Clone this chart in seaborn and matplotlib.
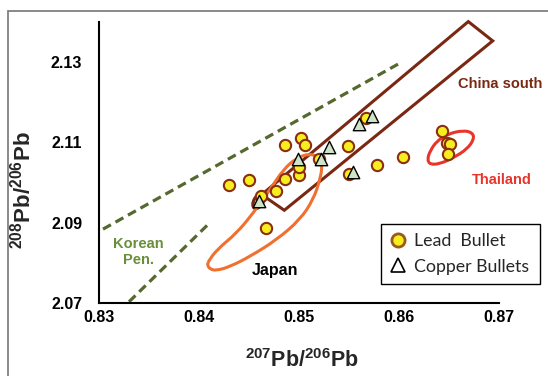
import numpy as np
import pandas as pd
import seaborn as sns
import matplotlib
matplotlib.use("Agg")
import matplotlib.pyplot as plt
from matplotlib.path import Path
from matplotlib.patches import PathPatch, Polygon, Ellipse, Rectangle
from matplotlib.lines import Line2D
import matplotlib.transforms as mtransforms

# ---------------- data ----------------
lead_x = [0.8430, 0.8450, 0.8462, 0.8467, 0.8477, 0.8486, 0.8486, 0.8500, 0.8500,
          0.8502, 0.8506, 0.8520, 0.8549, 0.8550, 0.8578, 0.8567, 0.8604, 0.8643,
          0.8648, 0.8651, 0.8649]
lead_y = [2.0995, 2.1006, 2.0966, 2.0888, 2.0980, 2.1009, 2.1093, 2.1018, 2.1039,
          2.1112, 2.1093, 2.1058, 2.1091, 2.1022, 2.1045, 2.1162, 2.1063, 2.1128,
          2.1098, 2.1097, 2.1072]

copper_x = [0.8460, 0.8499, 0.8522, 0.8530, 0.8560, 0.8573, 0.8554]
copper_y = [2.0955, 2.1058, 2.1058, 2.1089, 2.1147, 2.1166, 2.1027]

# field outlines (data coords)
korea_upper_x = [0.8304, 0.8599]
korea_upper_y = [2.0884, 2.1295]
korea_lower_x = [0.8330, 0.8410]
korea_lower_y = [2.0703, 2.0898]

china_x = [0.84627, 0.86693, 0.86937, 0.84853]
china_y = [2.0970, 2.1401, 2.1353, 2.0931]

japan_x = [0.84093, 0.84177, 0.84377, 0.84543, 0.84710, 0.84843, 0.84977, 0.85110,
           0.85210, 0.85233, 0.85210, 0.85143, 0.85010, 0.84777, 0.84510, 0.84310,
           0.84177, 0.84110, 0.84083]
japan_y = [2.08033, 2.08325, 2.08742, 2.09242, 2.09825, 2.10325, 2.10617, 2.10725,
           2.10617, 2.10408, 2.10075, 2.09575, 2.09075, 2.08575, 2.08158, 2.07908,
           2.07808, 2.07842, 2.07950]

thai_x = [0.86283, 0.86310, 0.86377, 0.86493, 0.86643, 0.86737, 0.86750, 0.86677,
          0.86543, 0.86410, 0.86310]
thai_y = [2.10575, 2.10783, 2.11033, 2.11217, 2.11300, 2.11242, 2.11075, 2.10825,
          2.10617, 2.10467, 2.10450]

x_ticks = [0.83, 0.84, 0.85, 0.86, 0.87]
x_ticklabels = ["0.83", "0.84", "0.85", "0.86", "0.87"]
y_ticks = [2.07, 2.09, 2.11, 2.13]
y_ticklabels = ["2.07", "2.09", "2.11", "2.13"]

# ---------------- style ----------------
sns.set_style("white")
plt.rcParams["font.family"] = ["Liberation Sans", "DejaVu Sans"]
plt.rcParams["mathtext.fontset"] = "custom"
plt.rcParams["mathtext.rm"] = "Liberation Sans:bold"
plt.rcParams["mathtext.it"] = "Liberation Sans:bold"
plt.rcParams["mathtext.bf"] = "Liberation Sans:bold"
plt.rcParams["lines.scale_dashes"] = False

BROWN = "#7a2812"
OLIVE = "#55692f"
ORANGE = "#f07030"
RED = "#e8352c"

fig = plt.figure(figsize=(5.48, 3.76), dpi=100)
ax = fig.add_axes([99 / 548, 1 - 303 / 376, 400 / 548, 281 / 376])

# gray outer frame
fig.add_artist(Rectangle((8 / 548, -0.1), 1.2, 1 - 10.5 / 376 + 0.1,
                         transform=fig.transFigure, fill=False,
                         edgecolor="#808080", linewidth=1.3, clip_on=False))


def smooth_closed(xs, ys):
    pts = list(zip(xs, ys))
    n = len(pts)
    mids = [((pts[i][0] + pts[(i + 1) % n][0]) / 2, (pts[i][1] + pts[(i + 1) % n][1]) / 2)
            for i in range(n)]
    verts = [mids[-1]]
    codes = [Path.MOVETO]
    for i in range(n):
        verts += [pts[i], mids[i]]
        codes += [Path.CURVE3, Path.CURVE3]
    return Path(verts, codes)


# Korean peninsula dashed lines
ax.plot(korea_upper_x, korea_upper_y, color=OLIVE, lw=2.3, ls=(0, (6.5, 3.8)), zorder=2)
ax.plot(korea_lower_x, korea_lower_y, color=OLIVE, lw=2.3, ls=(0, (6.5, 3.8)), zorder=2)

# China south box
ax.add_patch(Polygon(list(zip(china_x, china_y)), closed=True, fill=False,
                     edgecolor=BROWN, lw=2.2, joinstyle="miter", clip_on=False, zorder=2))
# small brown loop
ell_tr = fig.dpi_scale_trans + mtransforms.ScaledTranslation(0.84595, 2.09538, ax.transData)
ax.add_patch(Ellipse((0, 0), 0.16, 0.09, angle=60, transform=ell_tr, fill=False,
                     edgecolor=BROWN, lw=2.4, zorder=2))

# Japan field
ax.add_patch(PathPatch(smooth_closed(japan_x, japan_y), fill=False,
                       edgecolor=ORANGE, lw=2.2, zorder=2))
# Thailand field
ax.add_patch(PathPatch(smooth_closed(thai_x, thai_y), fill=False,
                       edgecolor=RED, lw=2.2, zorder=2))

# data points
sns.scatterplot(x=lead_x, y=lead_y, ax=ax, marker="o", s=66, color="#f7ee1f",
                edgecolor="#8a2e10", linewidth=1.5, zorder=4, legend=False)
sns.scatterplot(x=copper_x, y=copper_y, ax=ax, marker="^", s=80, color="#cfe3c8",
                edgecolor="black", linewidth=1.0, zorder=5, legend=False)

# labels in the plot
ax.text(0.8659, 2.1245, "China south", color=BROWN, fontsize=10.5, fontweight="bold",
        ha="left", va="center")
ax.text(0.8673, 2.10075, "Thailand", color=RED, fontsize=10.5, fontweight="bold",
        ha="left", va="center", clip_on=False)
ax.text(0.84765, 2.0781, "Japan", color="black", fontsize=11.5, fontweight="bold",
        ha="center", va="center")
ax.text(0.83395, 2.08275, "Korean\nPen.", color="#6a8f3c", fontsize=10.5,
        fontweight="bold", ha="center", va="center", linespacing=1.15)

# axes
ax.set_xlim(0.83, 0.87)
ax.set_ylim(2.07, 2.14)
ax.set_xticks(x_ticks)
ax.set_xticklabels(x_ticklabels, fontsize=11.5, fontweight="bold")
ax.set_yticks(y_ticks)
ax.set_yticklabels(y_ticklabels, fontsize=11.5, fontweight="bold")
ax.tick_params(axis="x", direction="in", length=4, width=1.4, pad=5, colors="black")
ax.tick_params(axis="y", direction="in", length=4, width=1.4, pad=12, colors="black")
for side in ["top", "right"]:
    ax.spines[side].set_visible(False)
for side in ["left", "bottom"]:
    ax.spines[side].set_linewidth(1.5)
    ax.spines[side].set_color("black")
ax.grid(False)

ax.set_xlabel(r"$^{207}$Pb/$^{206}$Pb", fontsize=15.5, fontweight="bold")
ax.set_ylabel(r"$^{208}$Pb/$^{206}$Pb", fontsize=16, fontweight="bold")
ax.xaxis.set_label_coords((302 - 99) / 400, (303 - 349) / 281)
ax.yaxis.set_label_coords((36 - 99) / 400, (303 - 190) / 281)

# legend
handles = [
    Line2D([], [], marker="o", ls="", markersize=9.5, markerfacecolor="#f7ee1f",
           markeredgecolor="#9a5a1a", markeredgewidth=2.0),
    Line2D([], [], marker="^", ls="", markersize=9.5, markerfacecolor="white",
           markeredgecolor="black", markeredgewidth=1.2),
]
leg = ax.legend(handles, ["Lead  Bullet", "Copper Bullets"],
                loc="upper left",
                bbox_to_anchor=(380.7 / 548, (376 - 286) / 376, 159.3 / 548, 62 / 376),
                bbox_transform=fig.transFigure, mode="expand", borderaxespad=0,
                frameon=True, fancybox=False, framealpha=1, edgecolor="black",
                prop={"family": "Lato", "size": 12.8}, handlelength=1.0,
                handletextpad=0.4, labelspacing=0.55, borderpad=0.5)
leg.get_frame().set_linewidth(1.0)

fig.savefig("out.png", dpi=100)
